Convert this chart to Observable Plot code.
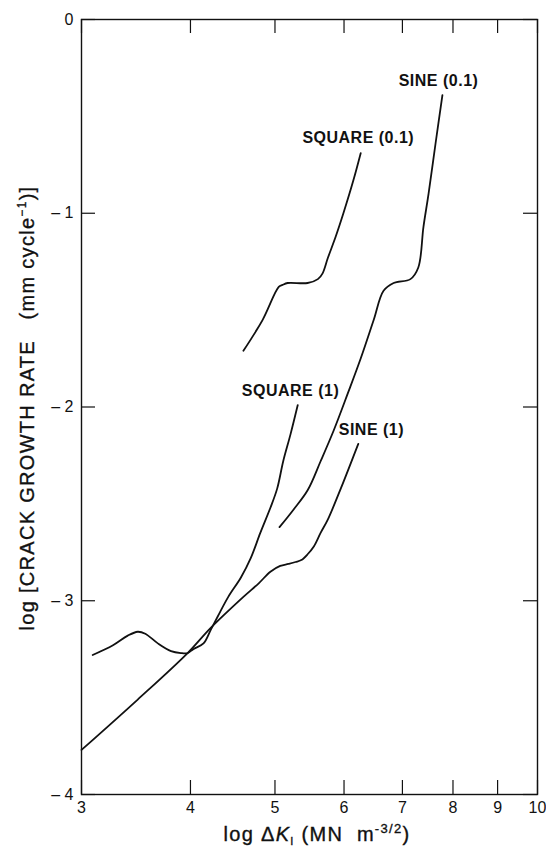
<!DOCTYPE html>
<html><head><meta charset="utf-8">
<script src="https://cdn.jsdelivr.net/npm/d3@7"></script>
<script src="https://cdn.jsdelivr.net/npm/@observablehq/plot@0.6"></script>
<style>
body{margin:0;background:#fff;}
#chart{width:546px;height:852px;}
</style></head><body><div id="chart"></div>
<script>
// Axis ticks
const xTicks = [3, 4, 5, 6, 7, 8, 9, 10];
const yTicks = [0, -1, -2, -3, -4];

// SQUARE (1) — ΔK (log axis) and log crack growth rate
const square1K = [3.09, 3.26, 3.39, 3.48, 3.55, 3.67, 3.80, 3.90, 3.97, 4.03, 4.14, 4.22, 4.30, 4.42, 4.57, 4.69, 4.81, 4.94, 5.03, 5.11, 5.21, 5.31];
const square1Y = [-3.28, -3.23, -3.18, -3.16, -3.17, -3.22, -3.26, -3.27, -3.27, -3.25, -3.22, -3.15, -3.08, -2.98, -2.88, -2.78, -2.65, -2.52, -2.42, -2.28, -2.14, -1.99];

// SINE (1)
const sine1K = [3.0, 3.48, 3.97, 4.22, 4.60, 4.79, 4.94, 5.07, 5.18, 5.28, 5.36, 5.45, 5.54, 5.64, 5.75, 5.95, 6.23];
const sine1Y = [-3.77, -3.51, -3.27, -3.14, -2.98, -2.91, -2.85, -2.82, -2.81, -2.80, -2.79, -2.76, -2.72, -2.65, -2.58, -2.42, -2.19];

// SQUARE (0.1)
const square01K = [4.60, 4.84, 5.05, 5.10, 5.17, 5.45, 5.60, 5.67, 5.75, 5.87, 5.99, 6.15, 6.27];
const square01Y = [-1.71, -1.55, -1.38, -1.37, -1.36, -1.36, -1.34, -1.31, -1.23, -1.12, -1.00, -0.83, -0.69];

// SINE (0.1)
const sine01K = [5.06, 5.25, 5.45, 5.64, 5.84, 6.06, 6.27, 6.49, 6.66, 6.84, 7.15, 7.30, 7.40, 7.50, 7.64, 7.78];
const sine01Y = [-2.62, -2.53, -2.43, -2.28, -2.12, -1.93, -1.75, -1.55, -1.40, -1.36, -1.34, -1.28, -1.07, -0.90, -0.64, -0.39];

// Curve labels
const labelText = ["SQUARE (0.1)", "SINE (0.1)", "SQUARE (1)", "SINE (1)"];
const labelK = [6.23, 7.70, 5.21, 6.45];
const labelY = [-0.61, -0.315, -1.915, -2.12];

const series = [
  ["SQUARE (1)", square1K, square1Y],
  ["SINE (1)", sine1K, sine1Y],
  ["SQUARE (0.1)", square01K, square01Y],
  ["SINE (0.1)", sine01K, sine01Y]
];
const rows = series.flatMap(([name, ks, ys]) => ks.map((k, i) => ({series: name, k, y: ys[i]})));
const labels = labelText.map((t, i) => ({text: t, k: labelK[i], y: labelY[i]}));

const ink = "#111";
const W = 546, H = 852, mL = 81, mR = 9, mT = 19, mB = 58, tick = 14;
const innerW = W - mL - mR, innerH = H - mT - mB;

const chart = Plot.plot({
  width: W, height: H,
  marginLeft: mL, marginRight: mR, marginTop: mT, marginBottom: mB,
  style: {fontFamily: "'Liberation Sans', Arial, sans-serif", fontSize: "15px", color: ink, background: "#fff"},
  x: {type: "log", domain: [3, 10]},
  y: {domain: [-4, 0]},
  marks: [
    Plot.frame({stroke: ink, strokeWidth: 1.4}),
    Plot.axisX({anchor: "bottom", ticks: xTicks, tickSize: 0, tickPadding: 7, fontSize: 16, tickFormat: d => String(d), label: null}),
    Plot.axisY({anchor: "left", ticks: yTicks, tickSize: 0, tickPadding: 8, fontSize: 16, tickFormat: d => d === 0 ? "0" : "\u2013 " + (-d), label: null}),
    // inward tick marks on all four sides
    Plot.tickX(xTicks, {x: d => d, insetBottom: innerH - tick, stroke: ink, strokeWidth: 1.2}),
    Plot.tickX(xTicks, {x: d => d, insetTop: innerH - tick, stroke: ink, strokeWidth: 1.2}),
    Plot.tickY(yTicks, {y: d => d, insetRight: innerW - tick, stroke: ink, strokeWidth: 1.2}),
    Plot.tickY(yTicks, {y: d => d, insetLeft: innerW - tick, stroke: ink, strokeWidth: 1.2}),
    Plot.line(rows, {x: "k", y: "y", z: "series", curve: "catmull-rom", stroke: ink, strokeWidth: 1.8}),
    Plot.text(labels, {x: "k", y: "y", text: "text", fontWeight: "bold", fontSize: 16, fill: ink})
  ]
});
document.getElementById("chart").appendChild(chart);

const svg = d3.select(chart);
svg.selectAll("g[aria-label='text'] text").style("letter-spacing", "0.5px");
svg.selectAll("g[aria-label$='tick label']").style("font-size", "16px")
  .selectAll("text").style("font-size", "16px");

// x-axis title
const xt = svg.append("text").attr("x", 317).attr("y", 841).attr("text-anchor", "middle")
  .style("font-size", "20px").style("letter-spacing", "1.3px").style("white-space", "pre")
  .attr("fill", ink).attr("stroke", ink).attr("stroke-width", 0.35);
xt.append("tspan").text("log \u0394");
xt.append("tspan").style("font-style", "italic").text("K");
xt.append("tspan").style("font-size", "11px").attr("dy", 4).text("I");
xt.append("tspan").attr("dy", -4).text(" (MN  m");
xt.append("tspan").style("font-size", "13px").attr("dy", -8).text("-3/2");
xt.append("tspan").attr("dy", 8).text(")");

// y-axis title
const yt = svg.append("text").attr("transform", "translate(34,408) rotate(-90)").attr("text-anchor", "middle")
  .style("font-size", "20px").style("letter-spacing", "1.3px").style("white-space", "pre")
  .attr("fill", ink).attr("stroke", ink).attr("stroke-width", 0.35);
yt.append("tspan").text("log [CRACK GROWTH RATE   (mm cycle");
yt.append("tspan").style("font-size", "12px").attr("dy", -8).text("\u22121");
yt.append("tspan").attr("dy", 8).text(")]");
</script>
</body></html>
